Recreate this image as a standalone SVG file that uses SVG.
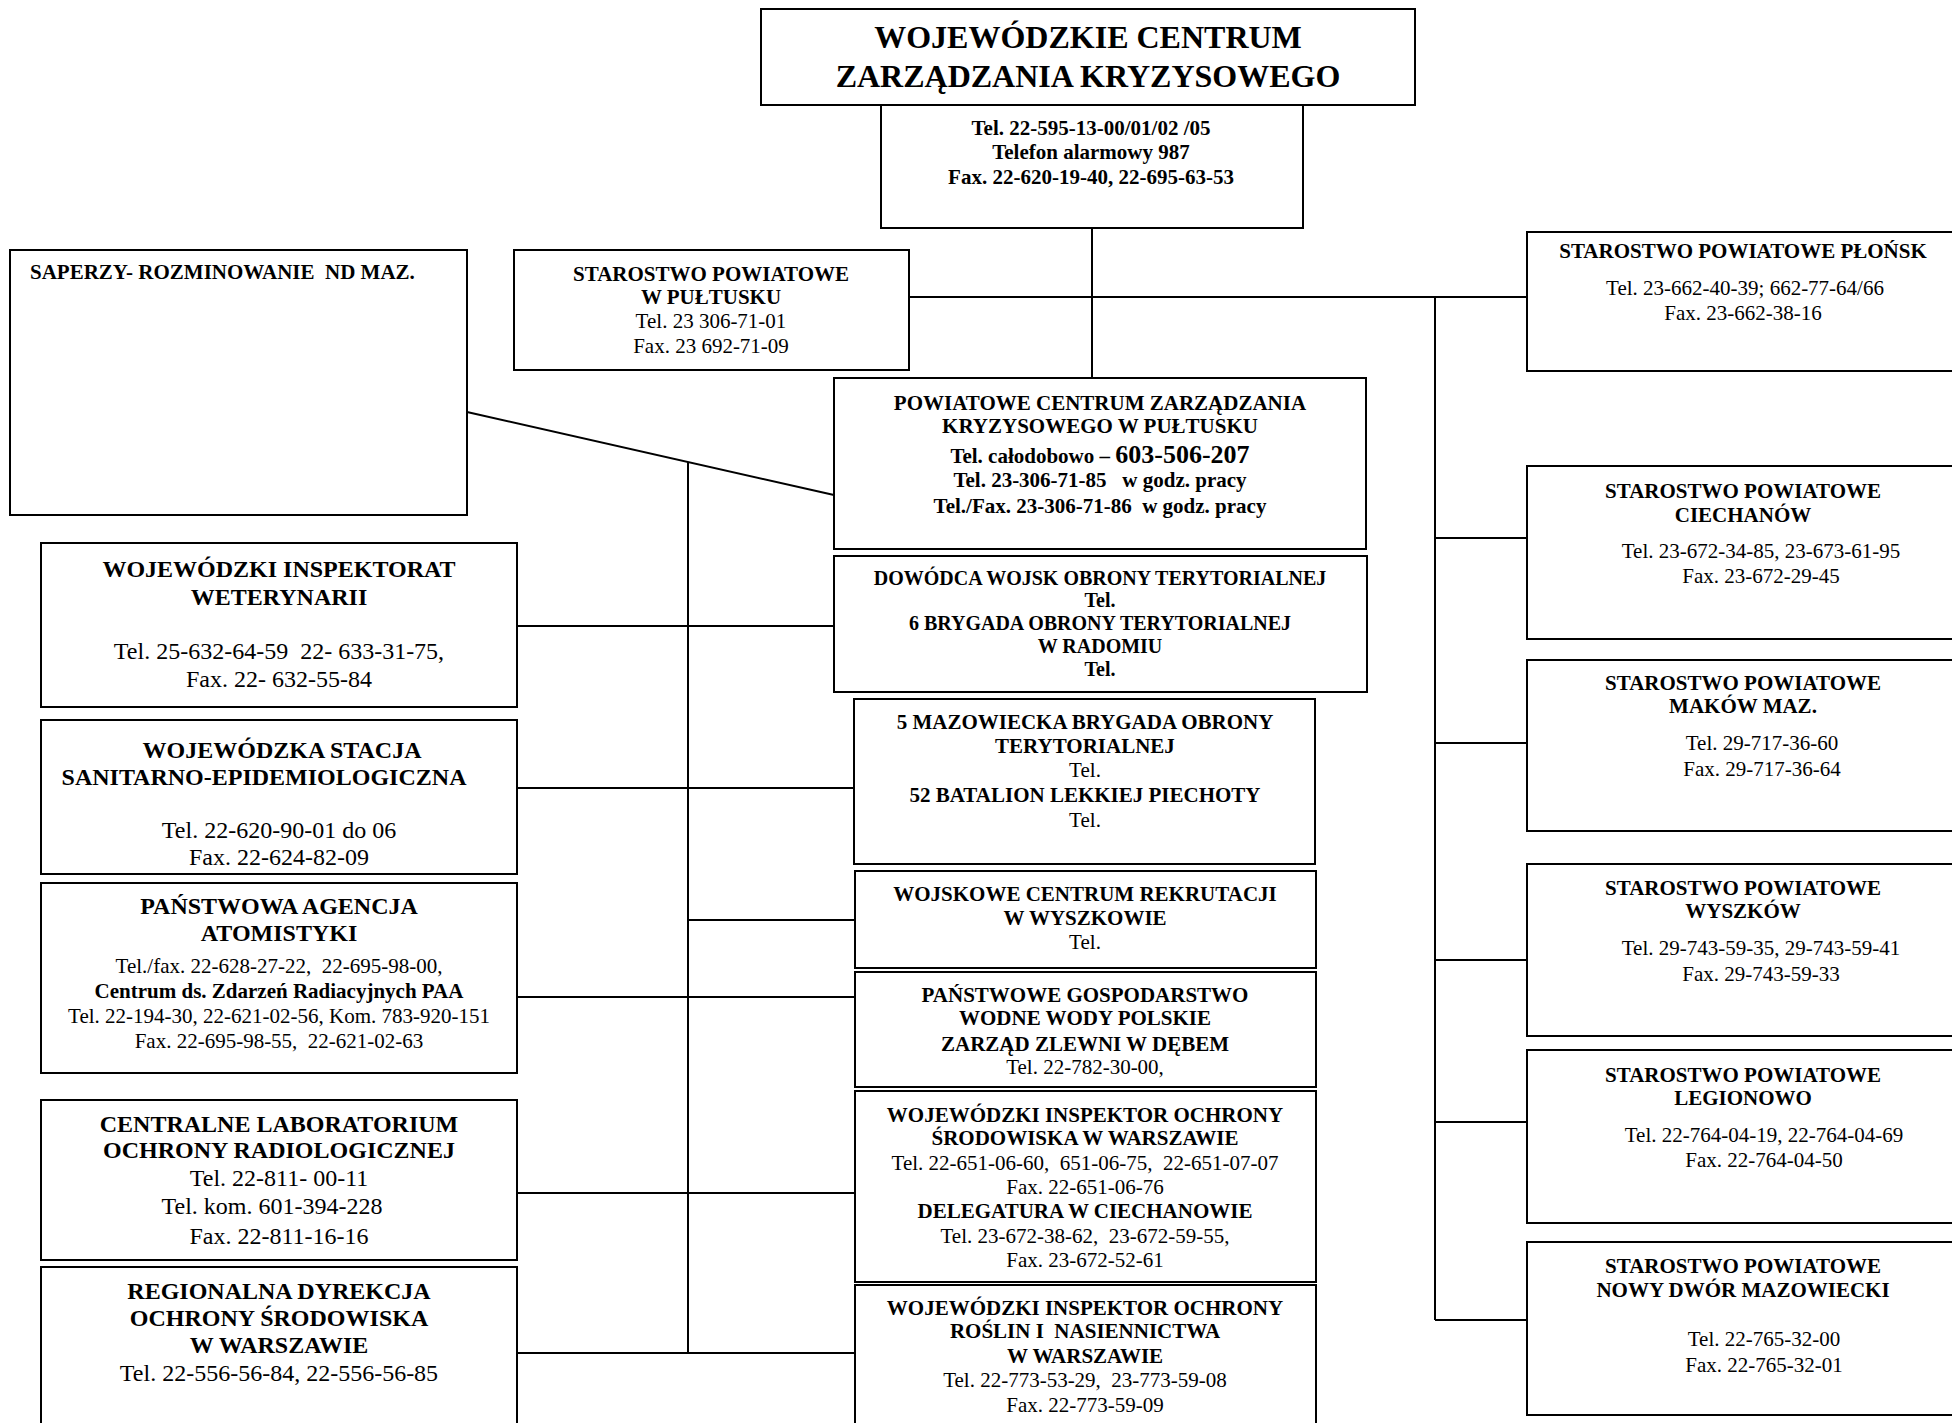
<svg xmlns="http://www.w3.org/2000/svg" width="1952" height="1423" viewBox="0 0 1952 1423">
<style>
.box{fill:#fff;stroke:#000;stroke-width:2}
.ln{fill:none;stroke:#000;stroke-width:2}
text{font-family:"Liberation Serif","Times New Roman",serif;fill:#000;text-anchor:middle;white-space:pre}
.b{font-weight:bold}
.s21{font-size:21px}
.s20{font-size:20px}
.s24{font-size:24px}
.s32{font-size:32px}
</style>
<rect width="1952" height="1423" fill="#fff"/>
<g id="connectors">
<path class="ln" d="M1092,228 V378"/>
<path class="ln" d="M909,297 H1527"/>
<path class="ln" d="M1435,297 V1320"/>
<path class="ln" d="M1435,538 H1527 M1435,743 H1527 M1435,960 H1527 M1435,1122 H1527 M1435,1320 H1527"/>
<path class="ln" d="M467,412 L834,495"/>
<path class="ln" d="M688,462 V1353"/>
<path class="ln" d="M517,626 H834 M517,788 H854 M688,920 H855 M517,997 H855 M517,1193 H855 M517,1353 H855"/>
</g>
<g id="wczk">
<rect class="box" x="761" y="9" width="654" height="96"/>
<text class="b s32" x="1088" y="48">WOJEWÓDZKIE CENTRUM</text>
<text class="b s32" x="1088" y="87">ZARZĄDZANIA KRYZYSOWEGO</text>
</g>
<g id="wczk-tel">
<rect class="box" x="881" y="105" width="422" height="123"/>
<text class="b s21" x="1091" y="135">Tel. 22-595-13-00/01/02 /05</text>
<text class="b s21" x="1091" y="159">Telefon alarmowy 987</text>
<text class="b s21" x="1091" y="184">Fax. 22-620-19-40, 22-695-63-53</text>
</g>
<g id="saperzy">
<rect class="box" x="10" y="250" width="457" height="265"/>
<text class="b s21" x="30" y="279" style="text-anchor:start">SAPERZY- ROZMINOWANIE  ND MAZ.</text>
</g>
<g id="starostwo-pultusk">
<rect class="box" x="514" y="250" width="395" height="120"/>
<text class="b s21" x="711" y="281">STAROSTWO POWIATOWE</text>
<text class="b s21" x="711" y="304">W PUŁTUSKU</text>
<text class="s21" x="711" y="328">Tel. 23 306-71-01</text>
<text class="s21" x="711" y="353">Fax. 23 692-71-09</text>
</g>
<g id="starostwo-plonsk">
<rect class="box" x="1527" y="232" width="440" height="139"/>
<text class="b s21" x="1743" y="258">STAROSTWO POWIATOWE PŁOŃSK</text>
<text class="s21" x="1745" y="295">Tel. 23-662-40-39; 662-77-64/66</text>
<text class="s21" x="1743" y="320">Fax. 23-662-38-16</text>
</g>
<g id="pczk">
<rect class="box" x="834" y="378" width="532" height="171"/>
<text class="b s21" x="1100" y="410">POWIATOWE CENTRUM ZARZĄDZANIA</text>
<text class="b s21" x="1100" y="433">KRYZYSOWEGO W PUŁTUSKU</text>
<text class="b s21" x="1100" y="463">Tel. całodobowo – <tspan style="font-size:26px">603-506-207</tspan></text>
<text class="b s21" x="1100" y="487">Tel. 23-306-71-85   w godz. pracy</text>
<text class="b s21" x="1100" y="513">Tel./Fax. 23-306-71-86  w godz. pracy</text>
</g>
<g id="dowodca">
<rect class="box" x="834" y="556" width="533" height="136"/>
<text class="b s20" x="1100" y="585">DOWÓDCA WOJSK OBRONY TERYTORIALNEJ</text>
<text class="b s20" x="1100" y="607">Tel.</text>
<text class="b s20" x="1100" y="630">6 BRYGADA OBRONY TERYTORIALNEJ</text>
<text class="b s20" x="1100" y="653">W RADOMIU</text>
<text class="b s20" x="1100" y="676">Tel.</text>
</g>
<g id="brygada5">
<rect class="box" x="854" y="699" width="461" height="165"/>
<text class="b s21" x="1085" y="729">5 MAZOWIECKA BRYGADA OBRONY</text>
<text class="b s21" x="1085" y="753">TERYTORIALNEJ</text>
<text class="s21" x="1085" y="777">Tel.</text>
<text class="b s21" x="1085" y="802">52 BATALION LEKKIEJ PIECHOTY</text>
<text class="s21" x="1085" y="827">Tel.</text>
</g>
<g id="wcr">
<rect class="box" x="855" y="871" width="461" height="97"/>
<text class="b s21" x="1085" y="901">WOJSKOWE CENTRUM REKRUTACJI</text>
<text class="b s21" x="1085" y="925">W WYSZKOWIE</text>
<text class="s21" x="1085" y="949">Tel.</text>
</g>
<g id="pgw">
<rect class="box" x="855" y="972" width="461" height="115"/>
<text class="b s21" x="1085" y="1002">PAŃSTWOWE GOSPODARSTWO</text>
<text class="b s21" x="1085" y="1025">WODNE WODY POLSKIE</text>
<text class="b s21" x="1085" y="1051">ZARZĄD ZLEWNI W DĘBEM</text>
<text class="s21" x="1085" y="1074">Tel. 22-782-30-00,</text>
</g>
<g id="wios">
<rect class="box" x="855" y="1091" width="461" height="191"/>
<text class="b s21" x="1085" y="1122">WOJEWÓDZKI INSPEKTOR OCHRONY</text>
<text class="b s21" x="1085" y="1145">ŚRODOWISKA W WARSZAWIE</text>
<text class="s21" x="1085" y="1170">Tel. 22-651-06-60,  651-06-75,  22-651-07-07</text>
<text class="s21" x="1085" y="1194">Fax. 22-651-06-76</text>
<text class="b s21" x="1085" y="1218">DELEGATURA W CIECHANOWIE</text>
<text class="s21" x="1085" y="1243">Tel. 23-672-38-62,  23-672-59-55,</text>
<text class="s21" x="1085" y="1267">Fax. 23-672-52-61</text>
</g>
<g id="wiorin">
<rect class="box" x="855" y="1285" width="461" height="150"/>
<text class="b s21" x="1085" y="1315">WOJEWÓDZKI INSPEKTOR OCHRONY</text>
<text class="b s21" x="1085" y="1338">ROŚLIN I  NASIENNICTWA</text>
<text class="b s21" x="1085" y="1363">W WARSZAWIE</text>
<text class="s21" x="1085" y="1387">Tel. 22-773-53-29,  23-773-59-08</text>
<text class="s21" x="1085" y="1412">Fax. 22-773-59-09</text>
</g>
<g id="wiw">
<rect class="box" x="41" y="543" width="476" height="164"/>
<text class="b s24" x="279" y="577">WOJEWÓDZKI INSPEKTORAT</text>
<text class="b s24" x="279" y="605">WETERYNARII</text>
<text class="s24" x="279" y="659">Tel. 25-632-64-59  22- 633-31-75,</text>
<text class="s24" x="279" y="687">Fax. 22- 632-55-84</text>
</g>
<g id="wsse">
<rect class="box" x="41" y="720" width="476" height="154"/>
<text class="b s24" x="282" y="758">WOJEWÓDZKA STACJA</text>
<text class="b s24" x="264" y="785">SANITARNO-EPIDEMIOLOGICZNA</text>
<text class="s24" x="279" y="838">Tel. 22-620-90-01 do 06</text>
<text class="s24" x="279" y="865">Fax. 22-624-82-09</text>
</g>
<g id="paa">
<rect class="box" x="41" y="883" width="476" height="190"/>
<text class="b s24" x="279" y="914">PAŃSTWOWA AGENCJA</text>
<text class="b s24" x="279" y="941">ATOMISTYKI</text>
<text class="s21" x="279" y="973">Tel./fax. 22-628-27-22,  22-695-98-00,</text>
<text class="b s21" x="279" y="998">Centrum ds. Zdarzeń Radiacyjnych PAA</text>
<text class="s21" x="279" y="1023">Tel. 22-194-30, 22-621-02-56, Kom. 783-920-151</text>
<text class="s21" x="279" y="1048">Fax. 22-695-98-55,  22-621-02-63</text>
</g>
<g id="clor">
<rect class="box" x="41" y="1100" width="476" height="160"/>
<text class="b s24" x="279" y="1132">CENTRALNE LABORATORIUM</text>
<text class="b s24" x="279" y="1158">OCHRONY RADIOLOGICZNEJ</text>
<text class="s24" x="279" y="1186">Tel. 22-811- 00-11</text>
<text class="s24" x="272" y="1214">Tel. kom. 601-394-228</text>
<text class="s24" x="279" y="1244">Fax. 22-811-16-16</text>
</g>
<g id="rdos">
<rect class="box" x="41" y="1267" width="476" height="170"/>
<text class="b s24" x="279" y="1299">REGIONALNA DYREKCJA</text>
<text class="b s24" x="279" y="1326">OCHRONY ŚRODOWISKA</text>
<text class="b s24" x="279" y="1353">W WARSZAWIE</text>
<text class="s24" x="279" y="1381">Tel. 22-556-56-84, 22-556-56-85</text>
</g>
<g id="starostwo-ciechanow">
<rect class="box" x="1527" y="466" width="440" height="173"/>
<text class="b s21" x="1743" y="498">STAROSTWO POWIATOWE</text>
<text class="b s21" x="1743" y="522">CIECHANÓW</text>
<text class="s21" x="1761" y="558">Tel. 23-672-34-85, 23-673-61-95</text>
<text class="s21" x="1761" y="583">Fax. 23-672-29-45</text>
</g>
<g id="starostwo-makow">
<rect class="box" x="1527" y="660" width="440" height="171"/>
<text class="b s21" x="1743" y="690">STAROSTWO POWIATOWE</text>
<text class="b s21" x="1743" y="713">MAKÓW MAZ.</text>
<text class="s21" x="1762" y="750">Tel. 29-717-36-60</text>
<text class="s21" x="1762" y="776">Fax. 29-717-36-64</text>
</g>
<g id="starostwo-wyszkow">
<rect class="box" x="1527" y="864" width="440" height="172"/>
<text class="b s21" x="1743" y="895">STAROSTWO POWIATOWE</text>
<text class="b s21" x="1743" y="918">WYSZKÓW</text>
<text class="s21" x="1761" y="955">Tel. 29-743-59-35, 29-743-59-41</text>
<text class="s21" x="1761" y="981">Fax. 29-743-59-33</text>
</g>
<g id="starostwo-legionowo">
<rect class="box" x="1527" y="1050" width="440" height="173"/>
<text class="b s21" x="1743" y="1082">STAROSTWO POWIATOWE</text>
<text class="b s21" x="1743" y="1105">LEGIONOWO</text>
<text class="s21" x="1764" y="1142">Tel. 22-764-04-19, 22-764-04-69</text>
<text class="s21" x="1764" y="1167">Fax. 22-764-04-50</text>
</g>
<g id="starostwo-nowy-dwor">
<rect class="box" x="1527" y="1242" width="440" height="173"/>
<text class="b s21" x="1743" y="1273">STAROSTWO POWIATOWE</text>
<text class="b s21" x="1743" y="1297">NOWY DWÓR MAZOWIECKI</text>
<text class="s21" x="1764" y="1346">Tel. 22-765-32-00</text>
<text class="s21" x="1764" y="1372">Fax. 22-765-32-01</text>
</g>
</svg>
